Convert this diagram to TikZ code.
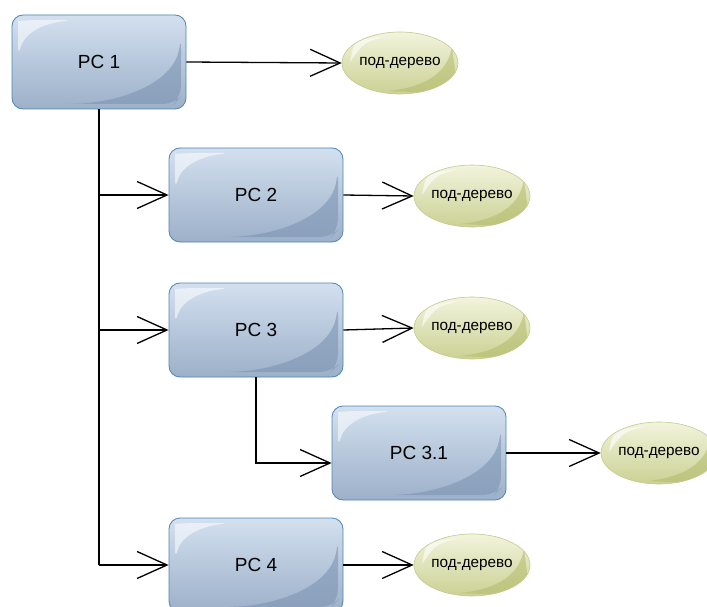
\documentclass[tikz,border=0pt]{standalone}
\usepackage{fontspec}
\setmainfont{Liberation Sans}
\usetikzlibrary{arrows.meta,shapes.geometric,calc}
\definecolor{boxtop}{HTML}{D3E0EF}
\definecolor{boxbot}{HTML}{9CB0C9}
\definecolor{boxdark}{HTML}{7C94B2}
\definecolor{boxborder}{HTML}{4E85B4}
\definecolor{elltop}{HTML}{F2F4DC}
\definecolor{ellbot}{HTML}{CBD194}
\definecolor{elldark}{HTML}{B2BA68}
\definecolor{ellborder}{HTML}{C4C98E}
\tikzset{
  pcbox/.style={rectangle, rounded corners=11pt, minimum width=174pt, minimum height=94pt,
    inner sep=0pt, draw=boxborder, line width=0.8pt, top color=boxtop, bottom color=boxbot,
    font=\fontsize{19}{20}\selectfont,
    path picture={
      \fill[boxdark, opacity=0.6]
        ([shift={(-5pt,-22pt)}]path picture bounding box.north east)
        .. controls ([shift={(-12pt,-70pt)}]path picture bounding box.north east)
        and ([shift={(-70pt,6pt)}]path picture bounding box.south east)
        .. ([shift={(52pt,5pt)}]path picture bounding box.south west)
        -- ([shift={(-12pt,5pt)}]path picture bounding box.south east)
        -- ([shift={(-5pt,12pt)}]path picture bounding box.south east) -- cycle;
      \fill[white, opacity=0.55]
        ([shift={(6pt,-42pt)}]path picture bounding box.north west)
        -- ([shift={(6pt,-14pt)}]path picture bounding box.north west)
        .. controls ([shift={(6pt,-6pt)}]path picture bounding box.north west)
        .. ([shift={(16pt,-5pt)}]path picture bounding box.north west)
        -- ([shift={(62pt,-5pt)}]path picture bounding box.north west)
        .. controls ([shift={(28pt,-9pt)}]path picture bounding box.north west)
        and ([shift={(12pt,-20pt)}]path picture bounding box.north west)
        .. cycle;
    }},
  subtree/.style={ellipse, minimum width=116pt, minimum height=62pt, inner sep=0pt,
    draw=ellborder, line width=0.6pt, top color=elltop, bottom color=ellbot,
    font=\fontsize{15.3}{16}\selectfont,
    path picture={
      \fill[elldark, opacity=0.55]
        ([shift={(-6pt,-14pt)}]path picture bounding box.north east)
        .. controls ([shift={(-10pt,-45pt)}]path picture bounding box.north east)
        and ([shift={(-40pt,6pt)}]path picture bounding box.south east)
        .. ([shift={(-70pt,3pt)}]path picture bounding box.south east)
        -- (path picture bounding box.south east) -- cycle;
      \fill[white, opacity=0.6]
        ([shift={(8pt,-30pt)}]path picture bounding box.north west)
        .. controls ([shift={(12pt,-8pt)}]path picture bounding box.north west)
        .. ([shift={(45pt,-4pt)}]path picture bounding box.north west)
        .. controls ([shift={(22pt,-10pt)}]path picture bounding box.north west)
        .. cycle;
    }},
  link/.style={draw=black, line width=1.3pt},
  arr/.style={link, -{Straight Barb[length=30pt,width=27pt]}},
}
\begin{document}
\begin{tikzpicture}[x=1pt,y=-1pt]
\useasboundingbox (0,0) rectangle (707,607);
\clip (0,0) rectangle (707,607);
\node[pcbox] (pc1) at (99,62) {PC 1};
\node[pcbox] (pc2) at (256,195) {PC 2};
\node[pcbox] (pc3) at (256,330) {PC 3};
\node[pcbox] (pc31) at (419,453) {PC 3.1};
\node[pcbox] (pc4) at (256,565) {PC 4};
\node[subtree] (s1) at (400,63) {под-дерево};
\node[subtree] (s2) at (472,196) {под-дерево};
\node[subtree] (s3) at (472,328) {под-дерево};
\node[subtree] (s31) at (659,453) {под-дерево};
\node[subtree] (s4) at (472,565) {под-дерево};
\draw[arr] (pc1.east) -- (s1.west);
\draw[arr] (pc2.east) -- (s2.west);
\draw[arr] (pc3.east) -- (s3.west);
\draw[arr] (pc31.east) -- (s31.west);
\draw[arr] (pc4.east) -- (s4.west);
\draw[link] (pc1.south) -- (pc1.south |- pc4.west);
\draw[arr] (pc1.south |- pc2.west) -- (pc2.west);
\draw[arr] (pc1.south |- pc3.west) -- (pc3.west);
\draw[arr] (pc1.south |- pc4.west) -- (pc4.west);
\draw[arr] (pc3.south) |- ([yshift=-10pt]pc31.west);
\end{tikzpicture}
\end{document}
